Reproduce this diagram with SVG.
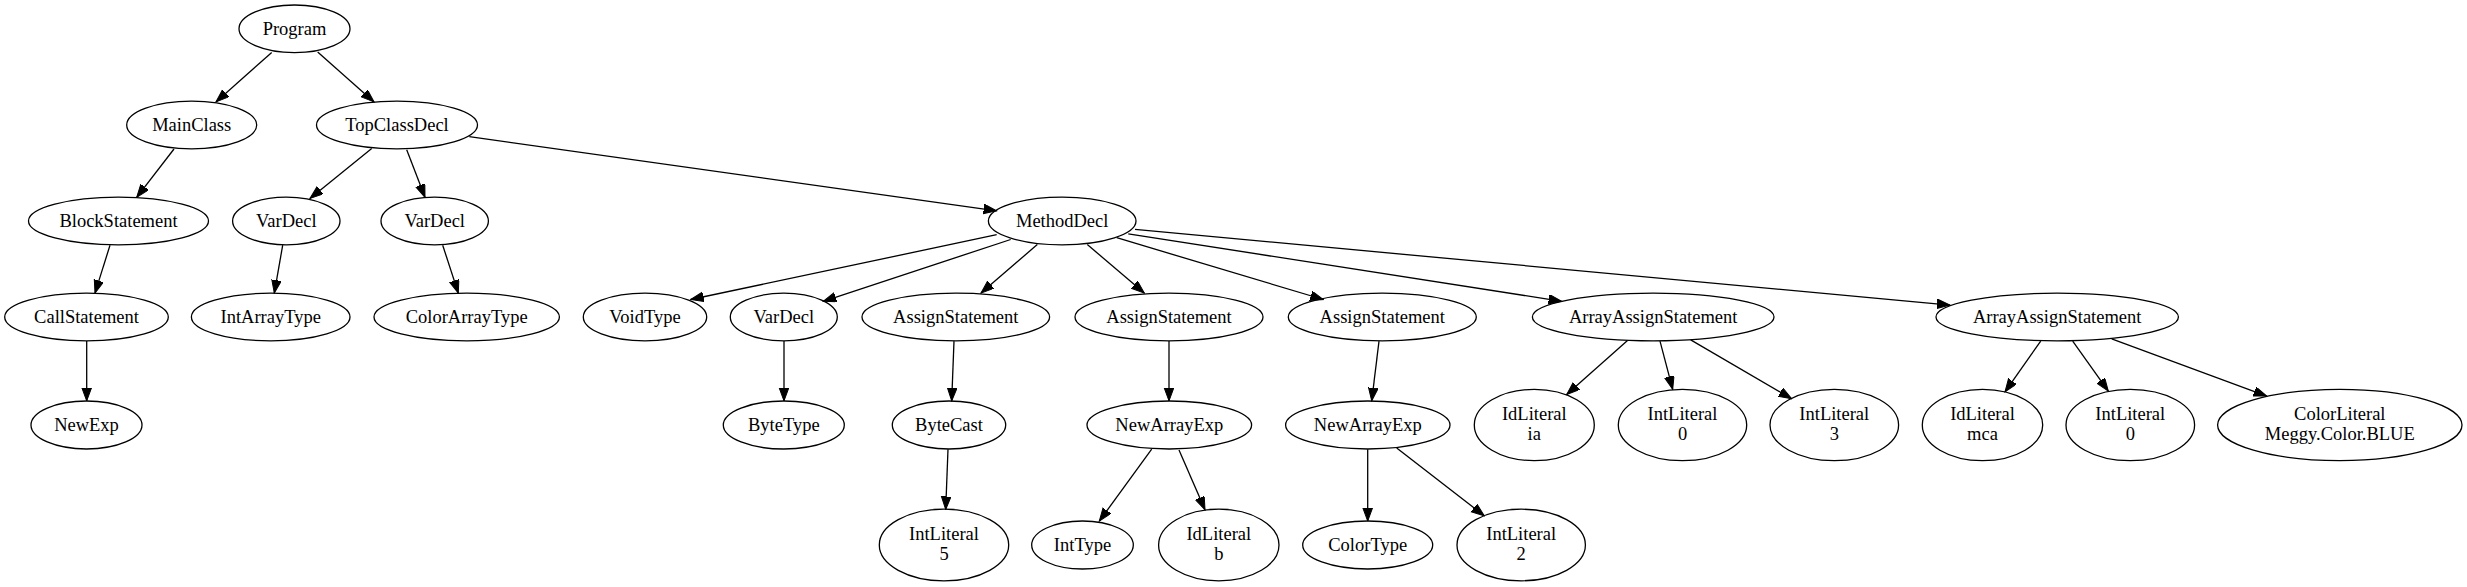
<svg xmlns="http://www.w3.org/2000/svg" width="2467" height="587" viewBox="0 0 2467 587">
<style>
.n ellipse{fill:none;stroke:#000;stroke-width:1.3}
.n text{font-family:"Liberation Serif","Times New Roman",serif;font-size:18.5px;text-anchor:middle;fill:#000}
#edges path{fill:none;stroke:#000;stroke-width:1.3;marker-end:url(#ah)}
</style>
<defs>
<marker id="ah" markerWidth="14" markerHeight="11" refX="13" refY="4.8" orient="auto" markerUnits="userSpaceOnUse">
<path d="M0,0 L13,4.8 L0,9.6 z" fill="#000" stroke="#000" stroke-width="1"/>
</marker>
</defs>
<rect width="2467" height="587" fill="#fff"/>
<g id="edges">
<path d="M271.7,52.4 L216,101.9"/>
<path d="M317.7,52 L374,101.9"/>
<path d="M174,149 L136.7,197.3"/>
<path d="M371.7,148.6 L310,198.4"/>
<path d="M406.7,149.7 L425,197.3"/>
<path d="M469.3,136.7 L996.7,210.8"/>
<path d="M110,245.2 L95,293.1"/>
<path d="M282.7,245.2 L274.3,293.1"/>
<path d="M442.7,245.2 L458.3,293.1"/>
<path d="M86.7,341.1 L86.7,400.9"/>
<path d="M996.7,234.7 L690.7,299.5"/>
<path d="M1010.7,239.5 L823.3,301.3"/>
<path d="M1037.3,244.5 L981,293.1"/>
<path d="M1087.3,244.5 L1144.3,293.1"/>
<path d="M1116.7,237.7 L1323.3,299.5"/>
<path d="M1128.3,233.9 L1561.7,301.3"/>
<path d="M1135,229.4 L1950,305.1"/>
<path d="M784,341.1 L784,400.9"/>
<path d="M954,341.1 L951.7,400.9"/>
<path d="M948,449.2 L945.7,509.5"/>
<path d="M1169,341.1 L1169,400.9"/>
<path d="M1151.7,449.2 L1099.3,521.1"/>
<path d="M1179,450 L1205,509.8"/>
<path d="M1379,341.1 L1371.7,400.9"/>
<path d="M1367.7,449.2 L1367.7,521.1"/>
<path d="M1396.7,448.1 L1484.3,515.8"/>
<path d="M1627.5,340.5 L1566.7,394.5"/>
<path d="M1660,341.1 L1672.7,389.3"/>
<path d="M1690.7,339.9 L1791.7,398.7"/>
<path d="M2040.7,341.1 L2005,391.9"/>
<path d="M2072.7,341.1 L2108.3,391.1"/>
<path d="M2111.7,338.8 L2266.7,396.1"/>
</g>
<g id="n0" class="n"><ellipse cx="294.5" cy="28.8" rx="55.5" ry="23.8"/><text x="294.5" y="34.5">Program</text></g>
<g id="n1" class="n"><ellipse cx="191.7" cy="125" rx="65" ry="23.8"/><text x="191.7" y="131">MainClass</text></g>
<g id="n2" class="n"><ellipse cx="397" cy="125" rx="80.5" ry="23.8"/><text x="397" y="131">TopClassDecl</text></g>
<g id="n3" class="n"><ellipse cx="118.5" cy="221" rx="90" ry="23.8"/><text x="118.5" y="227">BlockStatement</text></g>
<g id="n4" class="n"><ellipse cx="286.3" cy="221" rx="53.7" ry="23.8"/><text x="286.3" y="227">VarDecl</text></g>
<g id="n5" class="n"><ellipse cx="434.7" cy="221" rx="53.7" ry="23.8"/><text x="434.7" y="227">VarDecl</text></g>
<g id="n6" class="n"><ellipse cx="1062.2" cy="221" rx="73.8" ry="23.8"/><text x="1062.2" y="227">MethodDecl</text></g>
<g id="n7" class="n"><ellipse cx="86.5" cy="317" rx="81.8" ry="23.8"/><text x="86.5" y="323">CallStatement</text></g>
<g id="n8" class="n"><ellipse cx="270.7" cy="317" rx="79.3" ry="23.8"/><text x="270.7" y="323">IntArrayType</text></g>
<g id="n9" class="n"><ellipse cx="466.7" cy="317" rx="92.7" ry="23.8"/><text x="466.7" y="323">ColorArrayType</text></g>
<g id="n10" class="n"><ellipse cx="645" cy="317" rx="61.7" ry="23.8"/><text x="645" y="323">VoidType</text></g>
<g id="n11" class="n"><ellipse cx="783.8" cy="317" rx="53.5" ry="23.8"/><text x="783.8" y="323">VarDecl</text></g>
<g id="n12" class="n"><ellipse cx="955.8" cy="317" rx="93.8" ry="23.8"/><text x="955.8" y="323">AssignStatement</text></g>
<g id="n13" class="n"><ellipse cx="1169" cy="317" rx="94" ry="23.8"/><text x="1169" y="323">AssignStatement</text></g>
<g id="n14" class="n"><ellipse cx="1382.3" cy="317" rx="94" ry="23.8"/><text x="1382.3" y="323">AssignStatement</text></g>
<g id="n15" class="n"><ellipse cx="1653.2" cy="317" rx="120.8" ry="23.8"/><text x="1653.2" y="323">ArrayAssignStatement</text></g>
<g id="n16" class="n"><ellipse cx="2057.2" cy="317" rx="121.2" ry="23.8"/><text x="2057.2" y="323">ArrayAssignStatement</text></g>
<g id="n17" class="n"><ellipse cx="86.5" cy="425" rx="55.5" ry="24"/><text x="86.5" y="431">NewExp</text></g>
<g id="n18" class="n"><ellipse cx="783.8" cy="425" rx="60.5" ry="24"/><text x="783.8" y="431">ByteType</text></g>
<g id="n19" class="n"><ellipse cx="949" cy="425" rx="56.7" ry="24"/><text x="949" y="431">ByteCast</text></g>
<g id="n20" class="n"><ellipse cx="1169.3" cy="425" rx="82.3" ry="24"/><text x="1169.3" y="431">NewArrayExp</text></g>
<g id="n21" class="n"><ellipse cx="1367.8" cy="425" rx="82.2" ry="24"/><text x="1367.8" y="431">NewArrayExp</text></g>
<g id="n22" class="n"><ellipse cx="1534.3" cy="425" rx="60" ry="35.7"/><text x="1534.3" y="420">IdLiteral</text><text x="1534.3" y="439.5">ia</text></g>
<g id="n23" class="n"><ellipse cx="1682.5" cy="425" rx="64.2" ry="35.7"/><text x="1682.5" y="420">IntLiteral</text><text x="1682.5" y="439.5">0</text></g>
<g id="n24" class="n"><ellipse cx="1834.3" cy="425" rx="64.3" ry="35.7"/><text x="1834.3" y="420">IntLiteral</text><text x="1834.3" y="439.5">3</text></g>
<g id="n25" class="n"><ellipse cx="1982.5" cy="425" rx="60.2" ry="35.7"/><text x="1982.5" y="420">IdLiteral</text><text x="1982.5" y="439.5">mca</text></g>
<g id="n26" class="n"><ellipse cx="2130.3" cy="425" rx="64.3" ry="35.7"/><text x="2130.3" y="420">IntLiteral</text><text x="2130.3" y="439.5">0</text></g>
<g id="n27" class="n"><ellipse cx="2339.8" cy="425" rx="122.2" ry="35.7"/><text x="2339.8" y="420">ColorLiteral</text><text x="2339.8" y="439.5">Meggy.Color.BLUE</text></g>
<g id="n28" class="n"><ellipse cx="944" cy="545" rx="64.7" ry="35.8"/><text x="944" y="540">IntLiteral</text><text x="944" y="559.5">5</text></g>
<g id="n29" class="n"><ellipse cx="1082.5" cy="545" rx="50.8" ry="24"/><text x="1082.5" y="551">IntType</text></g>
<g id="n30" class="n"><ellipse cx="1218.8" cy="545" rx="60.2" ry="35.8"/><text x="1218.8" y="540">IdLiteral</text><text x="1218.8" y="559.5">b</text></g>
<g id="n31" class="n"><ellipse cx="1367.7" cy="545" rx="65" ry="24"/><text x="1367.7" y="551">ColorType</text></g>
<g id="n32" class="n"><ellipse cx="1521.2" cy="545" rx="64.2" ry="35.8"/><text x="1521.2" y="540">IntLiteral</text><text x="1521.2" y="559.5">2</text></g>
</svg>
